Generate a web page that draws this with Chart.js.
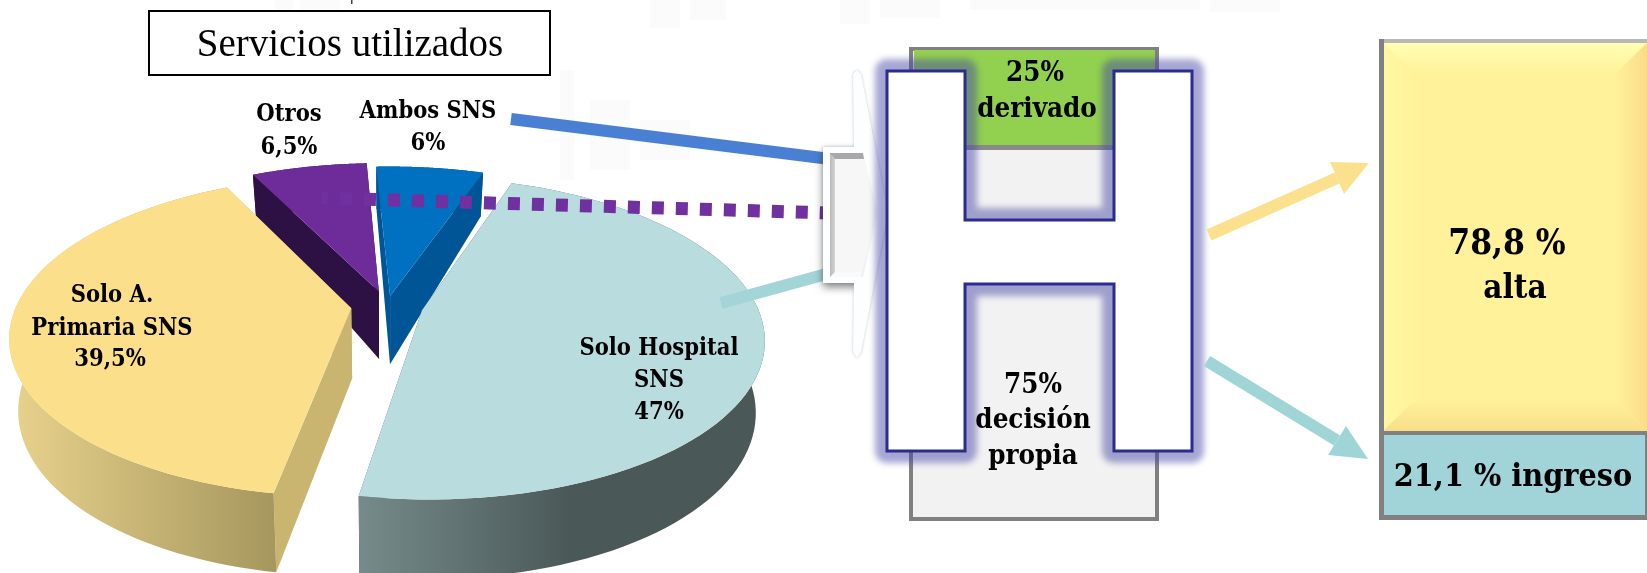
<!DOCTYPE html>
<html lang="es"><head><meta charset="utf-8">
<style>html,body{margin:0;padding:0;background:#fff;overflow:hidden}canvas{display:block}</style>
<script src="https://cdn.jsdelivr.net/npm/chart.js@4/dist/chart.umd.min.js"></script>
</head><body><canvas id="c" width="1647" height="573"></canvas>
<script>
// ---- data ----
const categories = ['Solo Hospital SNS', 'Solo A. Primaria SNS', 'Otros', 'Ambos SNS'];
const serviceShare = [47, 39.5, 6.5, 6];
const serviceLabels = ['47%', '39,5%', '6,5%', '6%'];
const decisionLabels = ['25%', '75%'];
const outcomeLabels = ['78,8 %', '21,1 %'];

// ---- styles ----
const topColors = ['#b9dcdf', '#fbdf8b', '#6e2c9a', '#0070c0'];
const explode = [36, 36, 33, 22];
const SERIF = '"DejaVu Serif"';
const P = {cx: 387, cy: 306, rx: 335, a: 155, k: 0.1725};

function project(u, v) {
  const w = 1 - P.k * v;
  return [P.cx + P.rx * u / w, P.cy + P.a * v / w];
}
function projectLow(u, v) {
  const [x, y] = project(u, v);
  const d = v > 0 ? 70 + 9 * v : 70 + 26 * v;
  return [387 + (x - 387) * 0.976, y + d];
}
function poly(ctx, pts) {
  ctx.beginPath();
  pts.forEach((p, i) => i ? ctx.lineTo(p[0], p[1]) : ctx.moveTo(p[0], p[1]));
  ctx.closePath();
}
function fillPoly(ctx, pts, fill) { poly(ctx, pts); ctx.fillStyle = fill; ctx.fill(); }
function txt(ctx, s, x, y, font, color) {
  ctx.font = font; ctx.fillStyle = color || '#000';
  ctx.textAlign = 'center'; ctx.textBaseline = 'middle';
  ctx.fillText(s, x, y);
}

const pie3d = {
  id: 'pie3d',
  beforeDatasetsDraw(chart) {
    const ctx = chart.ctx;
    const meta = chart.getDatasetMeta(0).data;
    drawBackdrop(ctx);
    const wall = [
      (() => { const g = ctx.createLinearGradient(359, 0, 570, 0); g.addColorStop(0, '#768b8b'); g.addColorStop(1, '#4a5858'); return g; })(),
      (() => { const g = ctx.createLinearGradient(11, 0, 275, 0); g.addColorStop(0, '#e8d28c'); g.addColorStop(1, '#a6975e'); return g; })(),
      '#2d1145', '#005596'
    ];
    const side = ['#4a5858', '#c9b56f', '#2d1145', '#005596'];
    [2, 3, 1, 0].forEach(i => {
      const el = meta[i];
      const s = el.startAngle, e = el.endAngle, mid = (s + e) / 2;
      const o = el.options.offset / P.rx;
      const ou = Math.cos(mid) * o, ov = Math.sin(mid) * o;
      const arc = [];
      for (let n = 0; n <= 80; n++) {
        const t = s + (e - s) * n / 80;
        arc.push([ou + Math.cos(t), ov + Math.sin(t)]);
      }
      const hi = arc.map(p => project(p[0], p[1]));
      const lo = arc.map(p => projectLow(p[0], p[1]));
      const vTop = project(ou, ov), vLow = projectLow(ou, ov);
      fillPoly(ctx, [vTop, hi[0], lo[0], vLow], side[i]);
      fillPoly(ctx, [vTop, hi[80], lo[80], vLow], side[i]);
      fillPoly(ctx, hi.concat(lo.slice().reverse()), wall[i]);
      fillPoly(ctx, [vTop].concat(hi), el.options.backgroundColor);
    });
    drawConnectors(ctx);
    drawPieLabels(ctx);
    drawRight(ctx);
    return false;
  }
};

function drawBackdrop(ctx) {
  ctx.fillStyle = '#fbfbfb';
  [[275,0,18,26],[300,0,40,12],[560,70,14,110],[590,100,40,70],[650,0,30,28],[690,0,36,20],[600,200,90,14],[640,120,50,40],[840,0,30,24],[880,0,60,18],[970,0,230,10],[1210,0,70,12]].forEach(r => ctx.fillRect(r[0], r[1], r[2], r[3]));
  // title box
  ctx.fillStyle = '#444'; ctx.fillRect(351, 0, 1.5, 4);
  ctx.fillStyle = '#fff'; ctx.fillRect(148, 10, 403, 66);
  ctx.strokeStyle = '#000'; ctx.lineWidth = 2; ctx.strokeRect(149, 11, 401, 64);
  txt(ctx, 'Servicios utilizados', 350, 46, '39px "Liberation Serif"');
}

function drawConnectors(ctx) {
  ctx.lineCap = 'butt';
  ctx.strokeStyle = '#4a80d4'; ctx.lineWidth = 12;
  ctx.beginPath(); ctx.moveTo(511, 119); ctx.lineTo(830, 159); ctx.stroke();
  ctx.strokeStyle = '#a3d5d8'; ctx.lineWidth = 12;
  ctx.beginPath(); ctx.moveTo(721, 303); ctx.lineTo(830, 273); ctx.stroke();
  ctx.strokeStyle = '#7030a0'; ctx.lineWidth = 13;
  ctx.setLineDash([12, 12]); ctx.lineDashOffset = 5;
  ctx.beginPath(); ctx.moveTo(321, 198); ctx.lineTo(830, 213); ctx.stroke();
  ctx.setLineDash([]);
}

function drawPieLabels(ctx) {
  const f = 'bold condensed 23.5px ' + SERIF;
  txt(ctx, categories[2], 289, 115, f); txt(ctx, serviceLabels[2], 289, 148, f);
  txt(ctx, categories[3], 428, 112, f); txt(ctx, serviceLabels[3], 428, 144, f);
  txt(ctx, 'Solo A.', 112, 296, f); txt(ctx, 'Primaria SNS', 112, 329, f); txt(ctx, serviceLabels[1], 110, 360, f);
  txt(ctx, 'Solo Hospital', 659, 349, f); txt(ctx, 'SNS', 659, 381, f); txt(ctx, serviceLabels[0], 659, 413, f);
}

function arrow(ctx, x0, y0, x1, y1, b1, b2, width, color) {
  const mx = (b1[0] + b2[0]) / 2, my = (b1[1] + b2[1]) / 2;
  ctx.strokeStyle = color; ctx.lineWidth = width;
  ctx.beginPath(); ctx.moveTo(x0, y0); ctx.lineTo(mx, my); ctx.stroke();
  fillPoly(ctx, [[x1, y1], b1, b2], color);
}

function drawRight(ctx) {
  // hollow white arrow entering the H
  ctx.save();
  ctx.shadowColor = 'rgba(0,0,0,.5)'; ctx.shadowBlur = 8; ctx.shadowOffsetY = 4;
  fillPoly(ctx, [[823,147],[866,147],[882,213],[866,283],[823,283]], '#fff');
  ctx.restore();
  const outer = [[823,147],[854,147],[853,74],[857,70],[861,74],[888,213],[861,352],[857,358],[853,352],[854,283],[823,283]];
  ctx.save();
  ctx.shadowColor = 'rgba(120,130,140,.45)'; ctx.shadowBlur = 3;
  fillPoly(ctx, outer, '#fdfeff');
  ctx.restore();
  const inner = ctx.createLinearGradient(830, 0, 840, 0); inner.addColorStop(0, '#b8b8b8'); inner.addColorStop(1, '#f0f0f0');
  fillPoly(ctx, [[830,153],[863,153],[877,213],[863,277],[830,277]], inner);
  fillPoly(ctx, [[830,153],[863,153],[864,159],[835,159]], '#a8a8a8');
  fillPoly(ctx, [[835,159],[864,159],[878,213],[862,272],[835,272]], '#f7f7f7');
  fillPoly(ctx, [[830,277],[835,272],[862,272],[861,277]], '#fafafa');

  // grey column with the green cap
  ctx.fillStyle = '#f2f2f2'; ctx.fillRect(911, 49, 246, 470);
  ctx.strokeStyle = '#808080'; ctx.lineWidth = 4; ctx.strokeRect(911, 49, 246, 470);
  ctx.fillStyle = '#92d050'; ctx.fillRect(914, 50, 241, 95);
  ctx.fillStyle = '#8a8a8a'; ctx.fillRect(913, 145, 243, 5);

  // the H
  const H = [[887,71],[965,71],[965,220],[1114,220],[1114,71],[1192,71],[1192,451],[1114,451],[1114,284],[965,284],[965,451],[887,451]];
  ctx.save();
  ctx.filter = 'blur(3px)';
  poly(ctx, H); ctx.strokeStyle = 'rgba(70,70,165,.48)'; ctx.lineWidth = 24; ctx.lineJoin = 'round'; ctx.stroke();
  ctx.restore();
  poly(ctx, H); ctx.fillStyle = '#fff'; ctx.fill();
  ctx.strokeStyle = '#2b2b90'; ctx.lineWidth = 3; ctx.lineJoin = 'miter'; ctx.stroke();

  const f = 'bold condensed 27.5px ' + SERIF;
  txt(ctx, decisionLabels[0], 1035, 74, f);
  txt(ctx, 'derivado', 1037, 110, f);
  txt(ctx, decisionLabels[1], 1033, 386, f);
  txt(ctx, 'decisión', 1033, 421, f);
  txt(ctx, 'propia', 1033, 457, f);

  // outcome arrows
  arrow(ctx, 1209, 235, 1369, 163, [1330,162], [1344,194], 12, '#fbe08e');
  arrow(ctx, 1207, 361, 1368, 459, [1346,426], [1328,455], 12, '#a0d5d8');

  // yellow box
  const L = 1383, R = 1647, T = 43, B = 431;
  ctx.fillStyle = '#fff29a'; ctx.fillRect(L, T, R - L, B - T);
  const gt = ctx.createLinearGradient(0, T, 0, T + 31); gt.addColorStop(0, '#ffffb4'); gt.addColorStop(1, '#fff29a');
  fillPoly(ctx, [[L,T],[R,T],[R-32,T+31],[L+32,T+31]], gt);
  const gl = ctx.createLinearGradient(L, 0, L + 32, 0); gl.addColorStop(0, '#fff8a2'); gl.addColorStop(1, '#fff29a');
  fillPoly(ctx, [[L,T],[L+32,T+31],[L+32,B-31],[L,B]], gl);
  const gr = ctx.createLinearGradient(R - 32, 0, R, 0); gr.addColorStop(0, '#fff29a'); gr.addColorStop(1, '#fbdb8a');
  fillPoly(ctx, [[R,T],[R-32,T+31],[R-32,B-31],[R,B]], gr);
  const gb = ctx.createLinearGradient(0, B - 31, 0, B); gb.addColorStop(0, '#fff29a'); gb.addColorStop(1, '#f9de8a');
  fillPoly(ctx, [[L,B],[L+32,B-31],[R-32,B-31],[R,B]], gb);
  ctx.fillStyle = '#808080'; ctx.fillRect(1379, 39, 5, 396); ctx.fillRect(1379, 431, 268, 5);
  ctx.fillStyle = '#b8b8b8'; ctx.fillRect(1384, 39, 263, 4);
  ctx.fillStyle = '#a0d4d8'; ctx.fillRect(1380, 435, 267, 84);
  ctx.fillStyle = '#808080'; ctx.fillRect(1379, 435, 5, 85); ctx.fillRect(1379, 515, 268, 5); ctx.fillRect(1645, 435, 2, 85);

  txt(ctx, outcomeLabels[0], 1507, 245, 'bold condensed 35px ' + SERIF);
  txt(ctx, 'alta', 1515, 289, 'bold condensed 33px ' + SERIF);
  txt(ctx, outcomeLabels[1] + ' ingreso', 1513, 478, 'bold condensed 32px ' + SERIF);
}

new Chart(document.getElementById('c'), {
  type: 'pie',
  data: {labels: categories, datasets: [{data: serviceShare, backgroundColor: topColors, offset: explode, borderWidth: 0}]},
  options: {
    responsive: false, animation: false, rotation: 19.1,
    plugins: {legend: {display: false}, tooltip: {enabled: false}}
  },
  plugins: [pie3d]
});
</script></body></html>
